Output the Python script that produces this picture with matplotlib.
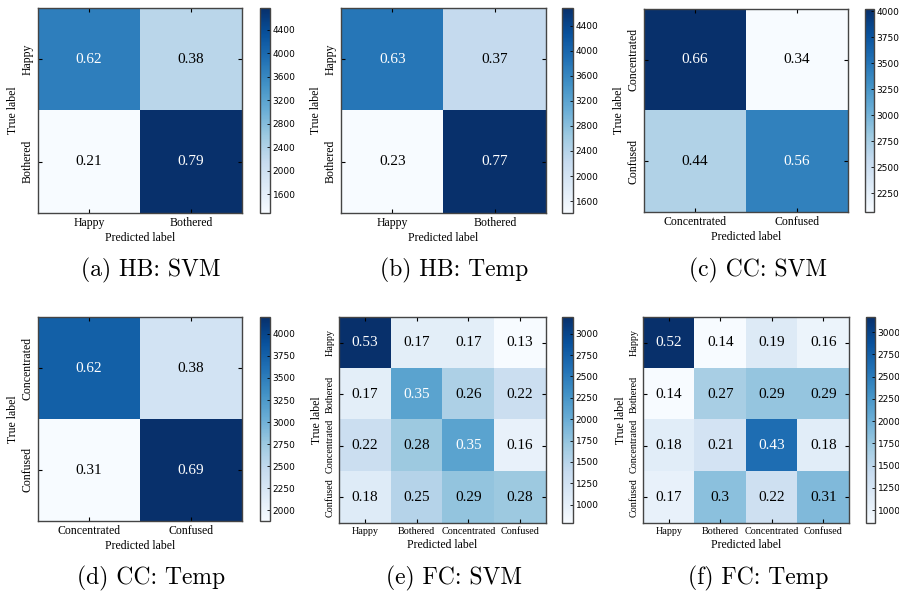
import numpy as np
import matplotlib
matplotlib.use("Agg")
import matplotlib.pyplot as plt
from matplotlib.ticker import MultipleLocator

# class names
hb_classes = ["Happy", "Bothered"]
cc_classes = ["Concentrated", "Confused"]
fc_classes = ["Happy", "Bothered", "Concentrated", "Confused"]

# counts (drive the colours)
hb_svm_counts = [[3720, 2280], [1280, 4770]]
hb_temp_counts = [[3790, 2230], [1410, 4680]]
cc_svm_counts = [[4020, 2070], [2680, 3410]]
cc_temp_counts = [[3760, 2310], [1880, 4190]]
fc_svm_counts = [[3195, 1025, 1025, 785],
                 [1025, 2110, 1570, 1325],
                 [1325, 1690, 2110, 965],
                 [1085, 1510, 1750, 1690]]
fc_temp_counts = [[3170, 855, 1160, 975],
                  [855, 1650, 1770, 1770],
                  [1100, 1280, 2620, 1100],
                  [1035, 1830, 1340, 1890]]

# normalised values printed in the cells
hb_svm_norm = [[0.62, 0.38], [0.21, 0.79]]
hb_temp_norm = [[0.63, 0.37], [0.23, 0.77]]
cc_svm_norm = [[0.66, 0.34], [0.44, 0.56]]
cc_temp_norm = [[0.62, 0.38], [0.31, 0.69]]
fc_svm_norm = [[0.53, 0.17, 0.17, 0.13],
               [0.17, 0.35, 0.26, 0.22],
               [0.22, 0.28, 0.35, 0.16],
               [0.18, 0.25, 0.29, 0.28]]
fc_temp_norm = [[0.52, 0.14, 0.19, 0.16],
                [0.14, 0.27, 0.29, 0.29],
                [0.18, 0.21, 0.43, 0.18],
                [0.17, 0.3, 0.22, 0.31]]

captions = ["(a) HB: SVM", "(b) HB: Temp", "(c) CC: SVM",
            "(d) CC: Temp", "(e) FC: SVM", "(f) FC: Temp"]

W, H = 899, 593
SERIF = "Liberation Serif"


def px_axes(fig, x0, y0, x1, y1):
    # pixel box (top-left origin) -> figure axes
    return fig.add_axes([x0 / W, 1 - y1 / H, (x1 - x0) / W, (y1 - y0) / H])


def plot_cm(fig, box, cbox, counts, norm, classes, step, tick_fs, cap, cap_xy):
    cm = np.array(counts, dtype=float)
    ax = px_axes(fig, *box)
    cax = px_axes(fig, *cbox)
    im = ax.imshow(cm, interpolation="nearest", cmap=plt.cm.Blues, aspect="auto")
    n = len(classes)
    ticks = np.arange(n)
    ax.set_xticks(ticks)
    ax.set_yticks(ticks)
    ax.set_xticklabels(classes, fontsize=tick_fs, family=SERIF)
    ax.set_yticklabels(classes, fontsize=tick_fs, family=SERIF, rotation=90, va="center")
    ax.tick_params(direction="in", top=True, right=True, length=3, width=0.8, pad=3)
    ax.set_xlabel("Predicted label", fontsize=8.5, family=SERIF, labelpad=2)
    ax.set_ylabel("True label", fontsize=8.5, family=SERIF, labelpad=2)
    for s in ax.spines.values():
        s.set_color("#444444")
        s.set_linewidth(1.0)

    thresh = (cm.max() + cm.min()) / 2
    for i in range(n):
        for j in range(n):
            ax.text(j, i, str(norm[i][j]), ha="center", va="center",
                    fontsize=11, family=SERIF,
                    color="white" if cm[i, j] > thresh else "black")

    cb = fig.colorbar(im, cax=cax)
    cb.locator = MultipleLocator(step)
    cb.update_ticks()
    cax.tick_params(direction="in", length=2, width=0.6, labelsize=6.5, pad=2)
    cb.outline.set_edgecolor("#444444")
    cb.outline.set_linewidth(1.0)

    fig.text(cap_xy[0] / W, 1 - cap_xy[1] / H, cap, ha="center", va="center",
             fontsize=17, family="cmr10")


fig = plt.figure(figsize=(W / 100, H / 100), dpi=100)

plot_cm(fig, (38, 8, 242, 213), (260, 8, 270, 213), hb_svm_counts, hb_svm_norm,
        hb_classes, 400, 8.5, captions[0], (151, 270))
plot_cm(fig, (341, 8, 546, 213), (562, 8, 573, 213), hb_temp_counts, hb_temp_norm,
        hb_classes, 400, 8.5, captions[1], (454, 270))
plot_cm(fig, (644, 9, 848, 212), (865, 9, 874, 212), cc_svm_counts, cc_svm_norm,
        cc_classes, 250, 8.5, captions[2], (758, 270))
plot_cm(fig, (38, 317, 242, 521), (260, 317, 270, 521), cc_temp_counts, cc_temp_norm,
        cc_classes, 250, 8.5, captions[3], (151, 578))
plot_cm(fig, (339, 317, 546, 523), (562, 317, 573, 523), fc_svm_counts, fc_svm_norm,
        fc_classes, 250, 7.3, captions[4], (454, 578))
plot_cm(fig, (643, 317, 849, 523), (866, 317, 875, 523), fc_temp_counts, fc_temp_norm,
        fc_classes, 250, 7.3, captions[5], (758, 578))

fig.savefig("out.png", dpi=100, facecolor="white")
